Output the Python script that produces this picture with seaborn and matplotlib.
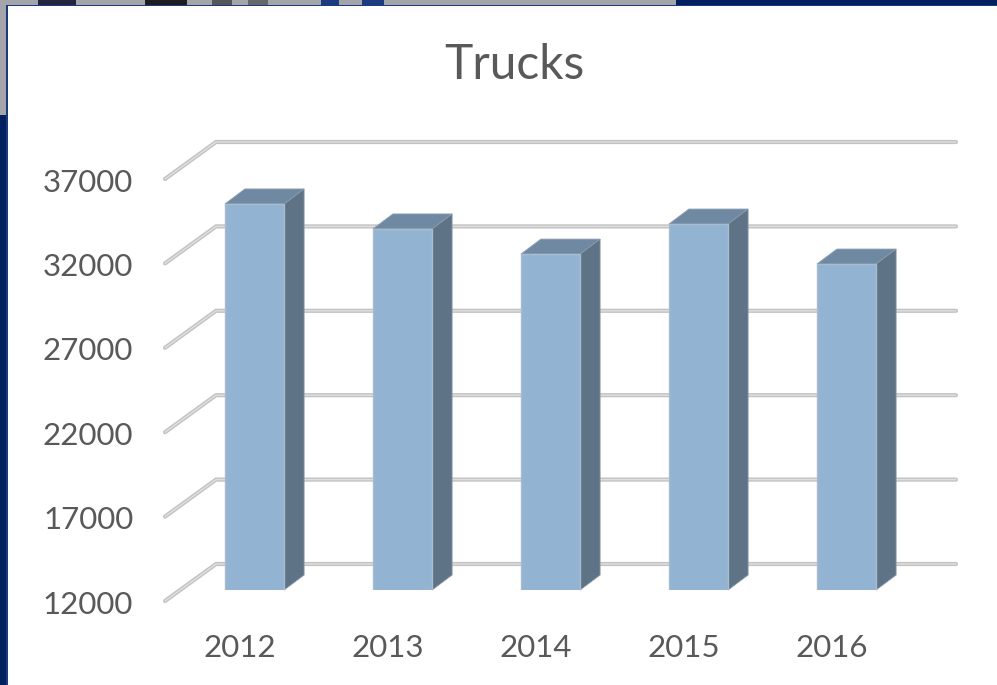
import matplotlib
matplotlib.use('Agg')
import matplotlib.pyplot as plt
from matplotlib.patches import Polygon, Rectangle
from matplotlib.transforms import IdentityTransform, ScaledTranslation
import pandas as pd
import seaborn as sns

W, H = 997, 685

years = ['2012', '2013', '2014', '2015', '2016']
trucks = [34870, 33390, 31900, 33680, 31310]
yticks = [12000, 17000, 22000, 27000, 32000, 37000]

FRONT = '#92b4d2'
TOP = '#7089a2'
SIDE = '#5e7386'
EDGE = '#a9bccd'
TXT = '#595959'
NAVY = '#002060'

sns.set_theme(style='white')
plt.rcParams['font.family'] = ['Lato', 'DejaVu Sans']

fig = plt.figure(figsize=(W / 100, H / 100), dpi=100, facecolor=NAVY)


def box(x0, y0, x1, y1, color, z=0):
    # rectangle in picture pixels, y going down
    fig.patches.append(Rectangle((x0 / W, 1 - y1 / H), (x1 - x0) / W, (y1 - y0) / H,
                                 transform=fig.transFigure, color=color, lw=0, zorder=z))


# slide behind the chart
box(0, 0, 676, 115, '#a3a5ab', 0)
for x0, x1, c in [(38, 76, '#23263c'), (145, 187, '#1c1c22'), (212, 232, '#55565c'),
                  (248, 268, '#66676c'), (321, 339, '#1e3a80'), (362, 384, '#1e3a80')]:
    box(x0, 0, x1, 5, c, 1)
box(6, 5, W, 6, '#1b3a78', 2)
box(6, 5, 8, H, '#1b3a78', 2)
box(8, 6, W, H, 'white', 3)

ax = fig.add_axes([180.5 / W, 1 - 590 / H, 740 / W, 422 / H], facecolor='none', zorder=5)
df = pd.DataFrame({'year': years, 'trucks': trucks})
sns.barplot(data=df, x='year', y='trucks', color=FRONT, saturation=1, width=0.4,
            edgecolor=EDGE, linewidth=1, ax=ax, zorder=4)
ax.set_ylim(12000, 37000)
ax.set_xlim(-0.5, 4.5)
ax.set_xlabel('')
ax.set_ylabel('')
ax.set_yticks(yticks)
ax.set_yticklabels([str(t) for t in yticks])
sns.despine(ax=ax, left=True, bottom=True)
ax.tick_params(length=0, labelsize=22.5, labelcolor=TXT)
ax.tick_params(axis='y', pad=34)
ax.tick_params(axis='x', pad=32)

# labels sit on the front edge of the floor, not on the bars' plane
for lab in ax.get_yticklabels():
    lab.set_transform(lab.get_transform() + ScaledTranslation(0, -12 / 100, fig.dpi_scale_trans))
for lab in ax.get_xticklabels():
    lab.set_transform(lab.get_transform() + ScaledTranslation(-14.5 / 100, 0, fig.dpi_scale_trans))

# gridlines with the slanted bit on the left wall
fig.canvas.draw()
to_px = ax.transData.transform
for t in yticks:
    _, py = to_px((0, t))
    xs = [165, 216, 956]
    ys = [py - 11, py + 26, py + 26]
    for lw, c in [(3.0, '#c2c2c2'), (1.0, '#e0e0e0')]:
        ax.plot(xs, ys, color=c, lw=lw, transform=IdentityTransform(), zorder=2,
                solid_capstyle='round', solid_joinstyle='miter', clip_on=False)

# fake 3d: side and top faces taken from the bar patches
DX, DY = 20, 15
ymin = ax.get_ylim()[0]
for bar in list(ax.patches):
    x0, y0 = to_px((bar.get_x(), ymin))
    x1, y1 = to_px((bar.get_x() + bar.get_width(), bar.get_y() + bar.get_height()))
    top = [(x0, y1), (x1, y1), (x1 + DX, y1 + DY), (x0 + DX, y1 + DY)]
    side = [(x1, y0), (x1 + DX, y0 + DY), (x1 + DX, y1 + DY), (x1, y1)]
    ax.add_patch(Polygon(top, closed=True, transform=IdentityTransform(), fc=TOP, ec='#8da0b3',
                         lw=0.6, zorder=3, clip_on=False))
    ax.add_patch(Polygon(side, closed=True, transform=IdentityTransform(), fc=SIDE, ec='#8a9aa8',
                         lw=0.6, zorder=3, clip_on=False))

fig.text(514 / W, 1 - 65 / H, 'Trucks', ha='center', va='center', fontsize=34.5, color=TXT, zorder=6)

fig.savefig('out.png', dpi=100, facecolor=fig.get_facecolor())
